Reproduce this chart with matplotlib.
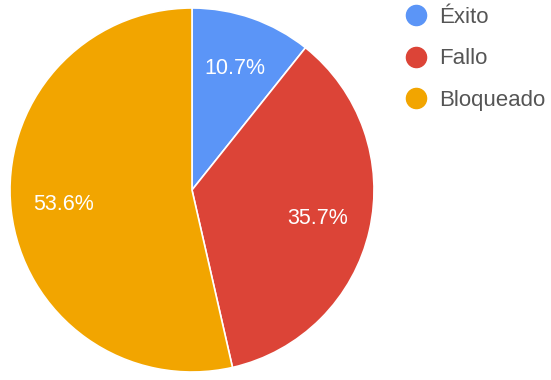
import matplotlib

matplotlib.use("Agg")

import matplotlib.pyplot as plt
from matplotlib.lines import Line2D

plt.rcParams["font.family"] = ["Liberation Sans", "DejaVu Sans"]

# test run outcome counts
labels = ["Éxito", "Fallo", "Bloqueado"]
counts = [3, 10, 15]
colors = ["#5b95f7", "#dc4437", "#f2a500"]

W, H = 551, 380
fig = plt.figure(figsize=(W / 100, H / 100), dpi=100)
fig.patch.set_facecolor("white")

# pie centred at (192, 190) px with a 182 px radius
cx, cy, r = 192, 190, 182
ax = fig.add_axes([(cx - r) / W, (H - cy - r) / H, 2 * r / W, 2 * r / H])
wedges, _, autotexts = ax.pie(
    counts,
    colors=colors,
    startangle=90,
    counterclock=False,
    autopct="%.1f%%",
    pctdistance=0.71,
    radius=1.0,
    wedgeprops=dict(edgecolor="white", linewidth=1.2),
    textprops=dict(color="white", fontsize=15.5),
)
ax.set_xlim(-1, 1)
ax.set_ylim(-1, 1)
ax.set_aspect("equal")
ax.axis("off")

handles = [
    Line2D([], [], marker="o", linestyle="none", markersize=14.5,
           markerfacecolor=c, markeredgecolor=c)
    for c in colors
]
leg = fig.legend(
    handles,
    labels,
    loc="upper left",
    bbox_to_anchor=(405 / W, 1 - 7 / H),
    frameon=False,
    fontsize=16,
    labelcolor="#555555",
    handlelength=1.0,
    handletextpad=0.55,
    labelspacing=0.92,
    borderpad=0,
    borderaxespad=0,
)

fig.savefig("out.png", dpi=100, facecolor="white")
